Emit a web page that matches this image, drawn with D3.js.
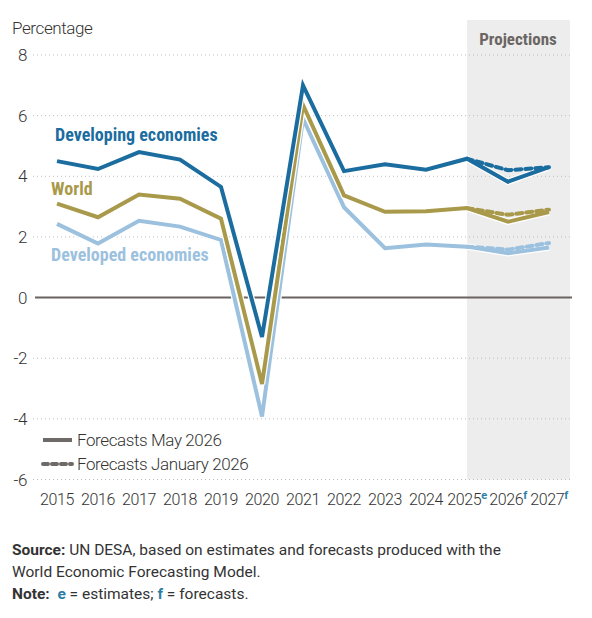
<!DOCTYPE html>
<html lang="en">
  <head>
    <meta charset="utf-8">
    <title>Growth of world gross product</title>
    <script src="https://d3js.org/d3.v7.min.js"></script>
    <style>
      body { margin: 0; background: #fff; }
      svg text { font-family: "Roboto Condensed", "Liberation Sans Narrow", Roboto, sans-serif; }
      svg text.leve { font-family: Roboto, sans-serif; font-weight: 300; letter-spacing: -0.4px; }
      .nota text { font-family: Roboto, sans-serif; }
    </style>
  </head>
  <body>
    <div id="chart"></div>
    <script>
      // dados
      var anos = ["2015","2016","2017","2018","2019","2020","2021","2022","2023","2024","2025","2026","2027"];
      var sufixos = ["","","","","","","","","","","e","f","f"];
      var emDesenvolvimento = [4.5, 4.24, 4.8, 4.55, 3.65, -1.3, 7.0, 4.17, 4.4, 4.22, 4.58, 3.82, 4.3];
      var mundo = [3.1, 2.65, 3.4, 3.26, 2.6, -2.85, 6.35, 3.37, 2.83, 2.85, 2.95, 2.5, 2.82];
      var desenvolvidas = [2.43, 1.78, 2.53, 2.34, 1.9, -3.92, 5.9, 2.98, 1.63, 1.75, 1.68, 1.46, 1.65];
      // previsões de janeiro 2026 (2025, 2026, 2027)
      var anosJan = ["2025","2026","2027"];
      var emDesenvolvimentoJan = [4.58, 4.2, 4.3];
      var mundoJan = [2.95, 2.73, 2.9];
      var desenvolvidasJan = [1.68, 1.58, 1.8];
      var ticksY = [8, 6, 4, 2, 0, -2, -4, -6];

      var largura = 592, altura = 618;
      var svg = d3.select("#chart").append("svg")
                  .attr("width", largura).attr("height", altura);

      var x = d3.scalePoint().domain(anos).range([57, 549]);
      var y = d3.scaleLinear().domain([-6, 8]).range([479.5, 55]);

      // faixa de projeções
      svg.append("rect")
        .attr("x", x("2025")).attr("y", 20)
        .attr("width", 570 - x("2025")).attr("height", y(-6) - 20)
        .attr("fill", "#eeedee");
      svg.append("text")
        .attr("x", 518).attr("y", 45)
        .attr("text-anchor", "middle")
        .attr("font-size", 17).attr("font-weight", "bold")
        .attr("fill", "#6b6664")
        .text("Projections");

      // grade
      svg.selectAll("line.grade")
        .data(ticksY.filter(d => d !== 0))
        .enter().append("line")
          .attr("class", "grade")
          .attr("x1", 33).attr("x2", 572)
          .attr("y1", d => y(d)).attr("y2", d => y(d))
          .attr("stroke", "#bdbdbd").attr("stroke-width", 1)
          .attr("stroke-dasharray", "1,3");

      svg.selectAll("text.ty")
        .data(ticksY)
        .enter().append("text")
          .attr("class", "ty leve")
          .attr("x", 27).attr("y", d => y(d) + 6)
          .attr("text-anchor", "end")
          .attr("font-size", 17).attr("fill", "#333")
          .text(d => d);

      svg.append("text")
        .attr("class", "leve")
        .attr("x", 12).attr("y", 34)
        .attr("font-size", 17).attr("fill", "#333")
        .text("Percentage");

      // linha do zero
      svg.append("line")
        .attr("x1", 35).attr("x2", 572)
        .attr("y1", y(0)).attr("y2", y(0))
        .attr("stroke", "#6b6360").attr("stroke-width", 2);

      // rótulos do eixo x
      var rotX = svg.selectAll("text.tx")
        .data(anos)
        .enter().append("text")
          .attr("class", "tx leve")
          .attr("x", d => x(d)).attr("y", 505)
          .attr("text-anchor", "middle")
          .attr("font-size", 16).attr("fill", "#333");
      rotX.append("tspan").text(d => d);
      rotX.append("tspan")
        .attr("dy", -6).attr("font-size", 11).attr("font-weight", "bold")
        .attr("fill", "#2b7ea4")
        .text((d, i) => sufixos[i]);

      var linha = d3.line().x(d => x(d.ano)).y(d => y(d.v));
      var junta = (ax, vs) => ax.map((a, i) => ({ano: a, v: vs[i]}));

      var series = [
        {nome: "Developed economies", cor: "#9cc1de", v: desenvolvidas, jan: desenvolvidasJan, rx: 51, ry: 261},
        {nome: "World", cor: "#a99a4b", v: mundo, jan: mundoJan, rx: 51, ry: 195},
        {nome: "Developing economies", cor: "#1b6c9f", v: emDesenvolvimento, jan: emDesenvolvimentoJan, rx: 55, ry: 141}
      ];

      series.forEach(function(s) {
        var dados = junta(anos, s.v);
        svg.append("path").datum(dados)
          .attr("d", linha).attr("fill", "none")
          .attr("stroke", "#fff").attr("stroke-width", 6.5)
          .attr("stroke-linejoin", "miter");
        svg.append("path").datum(dados)
          .attr("d", linha).attr("fill", "none")
          .attr("stroke", s.cor).attr("stroke-width", 4)
          .attr("stroke-linejoin", "miter");
        svg.append("path").datum(junta(anosJan, s.jan))
          .attr("d", linha).attr("fill", "none")
          .attr("stroke", s.cor).attr("stroke-width", 4)
          .attr("stroke-dasharray", "6,4")
          .attr("stroke-linecap", "round");
        svg.append("text")
          .attr("x", s.rx).attr("y", s.ry)
          .attr("font-size", 18).attr("font-weight", "bold")
          .attr("fill", s.cor)
          .text(s.nome);
      });

      // legenda
      var legenda = [
        {rotulo: "Forecasts May 2026", tracejado: null, y: 440},
        {rotulo: "Forecasts January 2026", tracejado: "5,4", y: 464}
      ];
      legenda.forEach(function(l) {
        svg.append("line")
          .attr("x1", 43).attr("x2", 72)
          .attr("y1", l.y).attr("y2", l.y)
          .attr("stroke", "#6e6a68").attr("stroke-width", 4)
          .attr("stroke-dasharray", l.tracejado)
          .attr("stroke-linecap", l.tracejado ? "round" : "butt");
        svg.append("text")
          .attr("class", "leve")
          .attr("x", 77).attr("y", l.y + 6)
          .attr("font-size", 17).attr("fill", "#333")
          .text(l.rotulo);
      });

      // fonte e nota
      var nota = svg.append("g").attr("class", "nota").attr("font-size", 15.5).attr("fill", "#333");
      var l1 = nota.append("text").attr("x", 12).attr("y", 555);
      l1.append("tspan").attr("font-weight", "bold").text("Source:");
      l1.append("tspan").text(" UN DESA, based on estimates and forecasts produced with the");
      nota.append("text").attr("x", 12).attr("y", 577).text("World Economic Forecasting Model.");
      var l3 = nota.append("text").attr("x", 12).attr("y", 599);
      l3.append("tspan").attr("font-weight", "bold").text("Note:");
      l3.append("tspan").attr("font-weight", "bold").attr("fill", "#2b7ea4").text("\u00a0\u00a0e");
      l3.append("tspan").text(" = estimates; ");
      l3.append("tspan").attr("font-weight", "bold").attr("fill", "#2b7ea4").text("f");
      l3.append("tspan").text(" = forecasts.");
    </script>
  </body>
</html>
